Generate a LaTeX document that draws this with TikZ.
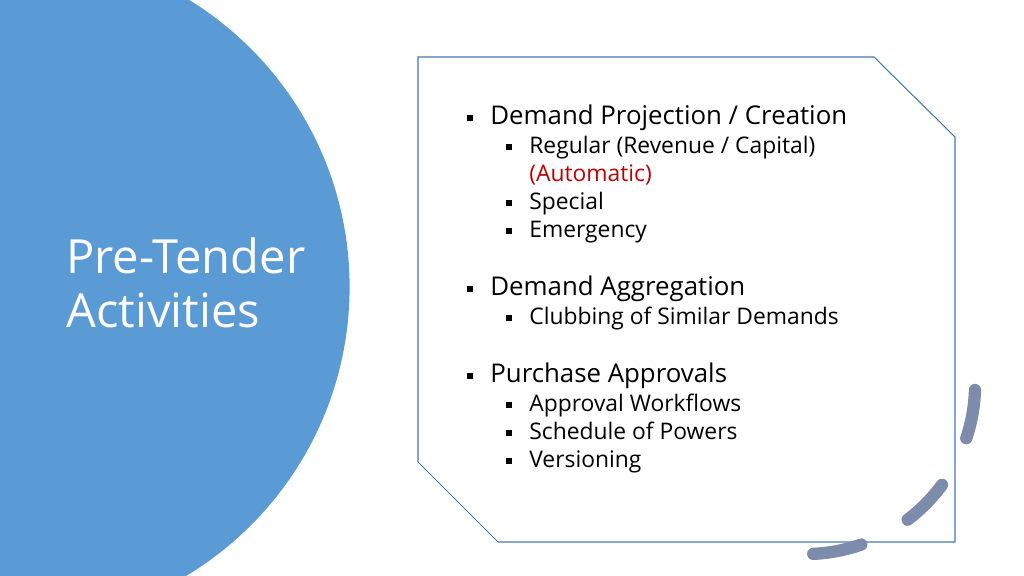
\documentclass[tikz,border=0pt]{standalone}
\usepackage{fontspec}
\setmainfont{Open Sans}
\definecolor{disc}{RGB}{91,155,213}
\definecolor{frame}{RGB}{70,120,180}
\definecolor{swirl}{RGB}{125,140,170}
\definecolor{auto}{RGB}{192,0,0}
\tikzset{
  main/.style={anchor=west,inner sep=0,font=\fontsize{14.7}{17}\selectfont},
  sub/.style={anchor=west,inner sep=0,font=\fontsize{13}{15}\selectfont},
  bullet/.style={fill=black,minimum size=3.6pt,inner sep=0}
}
\begin{document}
\begin{tikzpicture}[x=0.02cm,y=-0.02cm]
\useasboundingbox (0,0) rectangle (1024,575);
\begin{scope}
\clip (0,0) rectangle (1024,575);
\fill[disc] (12.6,287) circle (337);
\end{scope}
\node[anchor=west,text=white,align=left,inner sep=0,font=\fontsize{26.8}{31}\selectfont] (title) at (66,283) {Pre-Tender\\Activities};
\draw[frame,line width=0.6pt] (418,57) -- (874,57) -- (955,137) -- (955,542) -- (498,542) -- (418,462) -- cycle;
\draw[swirl,line width=7pt,line cap=round,dash pattern=on 28 off 30] (975,390) arc[start angle=2,end angle=90,radius=170];
% top level bullets
\node[main] (dp) at (490,119) {\strut Demand Projection / Creation};
\node[main] (da) at (490,290) {\strut Demand Aggregation};
\node[main] (pa) at (490,377) {\strut Purchase Approvals};
\foreach \n in {dp,da,pa} \node[bullet] at ([xshift=-0.4cm,yshift=0.02cm]\n.west) {};
% second level bullets
\node[sub] (reg) at (529,148) {\strut Regular (Revenue / Capital)};
\node[sub,text=auto] (aut) at (529,176) {\strut (Automatic)};
\node[sub] (spe) at (529,204) {\strut Special};
\node[sub] (eme) at (529,232) {\strut Emergency};
\node[sub] (clu) at (529,319) {\strut Clubbing of Similar Demands};
\node[sub] (apw) at (529,406) {\strut Approval Workflows};
\node[sub] (sop) at (529,434) {\strut Schedule of Powers};
\node[sub] (ver) at (529,462) {\strut Versioning};
\foreach \n in {reg,spe,eme,clu,apw,sop,ver} \node[bullet,minimum size=3.3pt] at ([xshift=-0.4cm,yshift=0.02cm]\n.west) {};
\end{tikzpicture}
\end{document}
